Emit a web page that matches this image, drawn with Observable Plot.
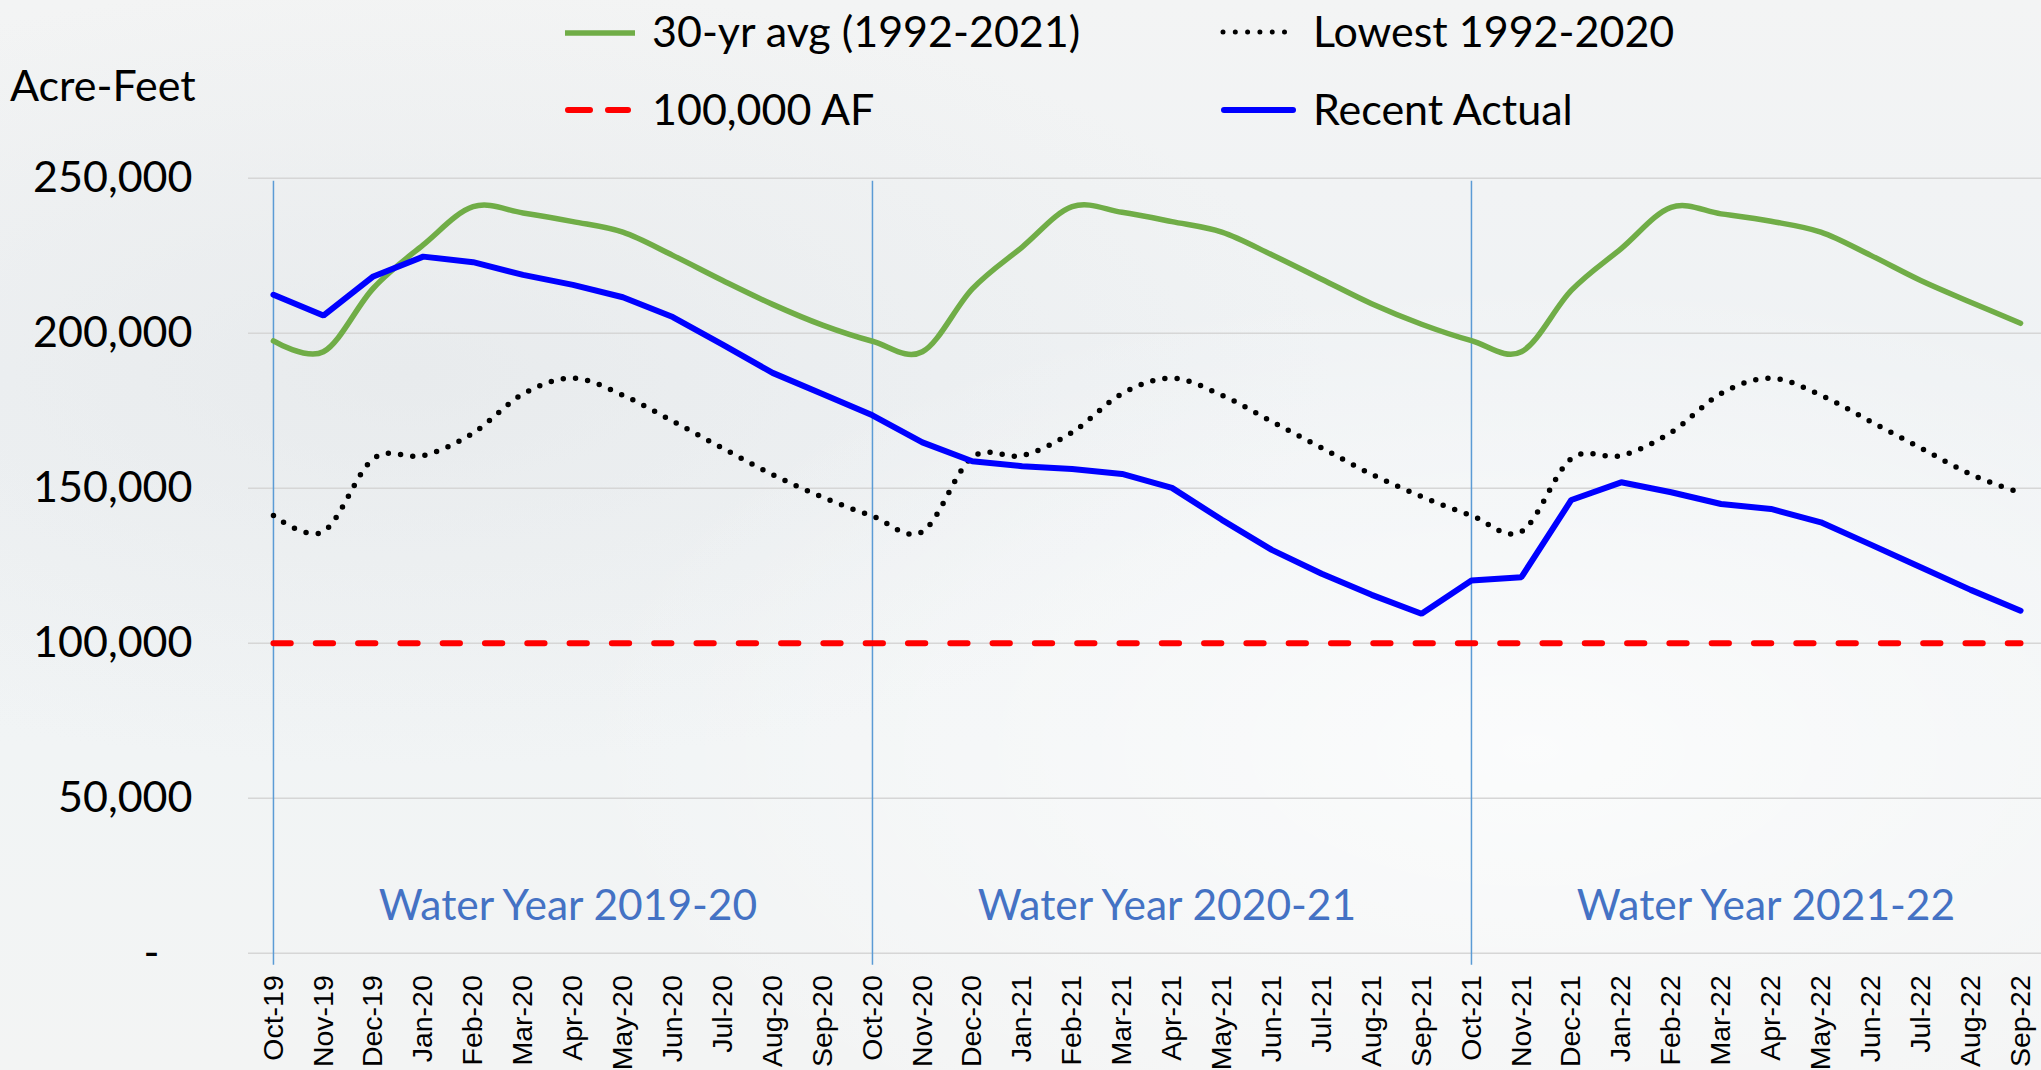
<!DOCTYPE html>
<html>
<head>
<meta charset="utf-8">
<script src="https://cdn.jsdelivr.net/npm/d3@7"></script>
<script src="https://cdn.jsdelivr.net/npm/@observablehq/plot@0.6"></script>
<style>
  html, body { margin: 0; padding: 0; width: 2041px; height: 1070px; overflow: hidden; }
  body {
    background:
      radial-gradient(ellipse at 75% 70%, rgba(255,255,255,0.7) 0%, rgba(255,255,255,0) 45%),
      radial-gradient(ellipse at 20% 35%, rgba(225,228,230,0.5) 0%, rgba(225,228,230,0) 40%),
      linear-gradient(180deg, #f3f4f4 0%, #eff2f4 35%, #f1f4f5 70%, #f3f4f4 100%);
    font-family: Lato, "Open Sans", sans-serif;
  }
  #wrap { position: relative; width: 2041px; height: 1070px; }
  .lg { position: absolute; font-size: 43px; line-height: 43px; color: #000; white-space: nowrap; }
  .sw { position: absolute; }
  #chart { position: absolute; left: 0; top: 140px; }
</style>
</head>
<body>
<div id="wrap">
  <div class="lg" style="left:10px; top:63px;">Acre-Feet</div>

  <svg class="sw" style="left:560px; top:23px;" width="80" height="20"><line x1="5" x2="75" y1="10" y2="10" stroke="#70AD47" stroke-width="5.5"/></svg>
  <div class="lg" style="left:652px; top:9px;">30-yr avg (1992-2021)</div>

  <svg class="sw" style="left:1215px; top:22px;" width="80" height="20"><line x1="8" x2="75" y1="10" y2="10" stroke="#000" stroke-width="5" stroke-linecap="round" stroke-dasharray="0 12.3"/></svg>
  <div class="lg" style="left:1313px; top:9px;">Lowest 1992-2020</div>

  <svg class="sw" style="left:560px; top:100px;" width="80" height="20"><line x1="8" x2="68" y1="10" y2="10" stroke="#FF0000" stroke-width="6" stroke-linecap="round" stroke-dasharray="22 18"/></svg>
  <div class="lg" style="left:652px; top:87px;">100,000 AF</div>

  <svg class="sw" style="left:1215px; top:100px;" width="85" height="20"><line x1="9" x2="78" y1="10" y2="10" stroke="#0000FF" stroke-width="6" stroke-linecap="round"/></svg>
  <div class="lg" style="left:1313px; top:87px;">Recent Actual</div>

  <div id="chart"></div>
</div>
<script>
const months = ["Oct-19","Nov-19","Dec-19","Jan-20","Feb-20","Mar-20","Apr-20","May-20","Jun-20","Jul-20","Aug-20","Sep-20",
                "Oct-20","Nov-20","Dec-20","Jan-21","Feb-21","Mar-21","Apr-21","May-21","Jun-21","Jul-21","Aug-21","Sep-21",
                "Oct-21","Nov-21","Dec-21","Jan-22","Feb-22","Mar-22","Apr-22","May-22","Jun-22","Jul-22","Aug-22","Sep-22"];

// 30-yr avg (1992-2021)
const avg30 = [197500,194000,214500,228500,240800,238800,236000,232600,225100,217000,209300,202600,
               197400,194000,214300,227800,240800,239000,236000,232600,225300,217400,209500,202900,
               197600,194000,213800,227300,240600,238500,236100,232600,225100,217000,210000,203200];

// Lowest 1992-2020
const lowest = [141200,136000,159500,160500,167800,180400,185500,180000,171600,162900,154400,147100,
                141000,136000,160000,160500,168000,180500,185500,180000,171500,163000,154500,147300,
                141200,136000,159500,160500,168000,180500,185500,180000,171500,163000,154500,148500];

// Recent Actual
const actual = [212400,205700,218300,224700,222900,218800,215600,211600,205200,196300,187200,180400,
                173500,164800,158700,157100,156200,154600,150100,139800,130100,122400,115600,109500,
                120200,121300,146200,151900,148700,144900,143300,139000,131800,124500,117200,110500];

// 100,000 AF threshold
const thresholdAF = 100000;

const yTicks = [0, 50000, 100000, 150000, 200000, 250000];
const separators = ["Oct-19", "Oct-20", "Oct-21"];
const waterYears = ["Water Year 2019-20", "Water Year 2020-21", "Water Year 2021-22"];
const waterYearCenters = ["Apr-20", "Apr-21", "Apr-22"];
const waterYearLabelLevel = 15000;

const rows = months.map((m, i) => ({month: m, avg: avg30[i], low: lowest[i], act: actual[i]}));
const fmt = d3.format(",");

const chart = Plot.plot({
  width: 2041,
  height: 930,
  marginTop: 37.7,
  marginBottom: 117.3,
  marginLeft: 248,
  marginRight: -4,
  style: {background: "transparent", color: "#000", fontFamily: "Lato", fontSize: "43px", overflow: "visible"},
  x: {type: "point", domain: months, padding: 0.5, label: null},
  y: {domain: [0, 250000], label: null},
  marks: [
    Plot.gridY(yTicks, {stroke: "#d6d6d6", strokeOpacity: 1, strokeWidth: 1.6}),
    Plot.ruleX(separators, {stroke: "#5B9BD5", strokeWidth: 1.5, insetTop: 3, insetBottom: -12}),
    Plot.axisY(yTicks, {
      tickSize: 0, tickPadding: 56, label: null,
      tickFormat: d => d === 0 ? "-\u00a0\u00a0\u00a0" : fmt(d),
      fontSize: 43, fontFamily: "Lato", fill: "#000"
    }),
    Plot.axisX({tickSize: 0, tickPadding: 22, tickRotate: -90, label: null,
      fontSize: 28.5, fontFamily: "Liberation Sans", fill: "#000"}),
    Plot.text(waterYears, {
      x: (d, i) => waterYearCenters[i], y: () => waterYearLabelLevel, text: d => d,
      fill: "#4472C4", fontSize: 42.5, fontFamily: "Lato", textAnchor: "middle", lineAnchor: "middle", dx: -5
    }),
    Plot.lineY(months, {x: d => d, y: () => thresholdAF, stroke: "#FF0000", strokeWidth: 6,
      strokeLinecap: "round", strokeDasharray: "17.3 25"}),
    Plot.lineY(rows, {x: "month", y: "low", stroke: "#000", strokeWidth: 5.5, curve: "cardinal",
      strokeLinecap: "round", strokeDasharray: "0 12.3"}),
    Plot.lineY(rows, {x: "month", y: "avg", stroke: "#70AD47", strokeWidth: 5.5, curve: "cardinal"}),
    Plot.lineY(rows, {x: "month", y: "act", stroke: "#0000FF", strokeWidth: 6, strokeLinejoin: "miter"})
  ]
});
document.getElementById("chart").appendChild(chart);
</script>
</body>
</html>
